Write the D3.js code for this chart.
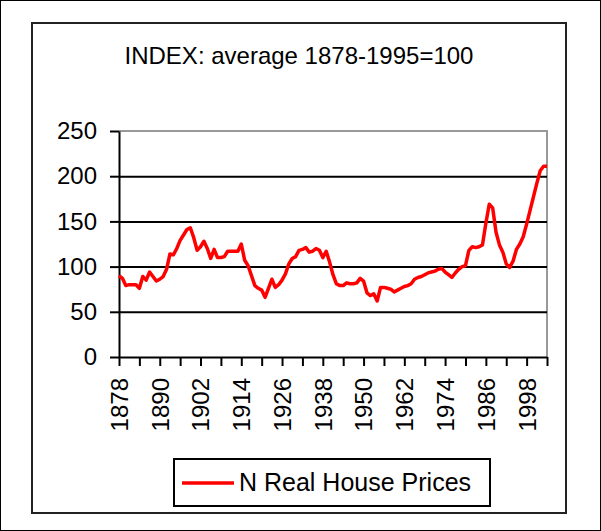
<!DOCTYPE html>
<html lang="en">
<head>
  <meta charset="UTF-8">
  <title>N Real House Prices</title>
  <script src="https://d3js.org/d3.v7.min.js"></script>
  <style>
    body {
      margin: 0;
      background: #fff;
    }
    svg text {
      font-family: "Liberation Sans", Arial, sans-serif;
      fill: #000;
    }
  </style>
</head>
<body>
  <svg id="chart" width="601" height="531"></svg>

  <script>
    const title = "INDEX: average 1878-1995=100";
    const seriesName = "N Real House Prices";

    const firstYear = 1878;
    const lastYear = 2004;

    // one value per year, 1878..2004
    const prices = [
      90, 87, 79, 80, 80, 80, 76, 89, 85, 94,          // 1878-1887
      89, 84, 86, 89, 97, 114, 113, 120, 129, 135,     // 1888-1897
      141, 143, 132, 118, 122, 128, 120, 109, 119, 110, // 1898-1907
      110, 111, 117, 117, 117, 117, 125, 107, 101, 90,  // 1908-1917
      79, 76, 74, 66, 76, 86, 77, 80, 85, 92,           // 1918-1927
      103, 109, 111, 118, 119, 121, 116, 117, 120, 118, // 1928-1937
      110, 117, 105, 91, 81, 79, 79, 82, 81, 81,        // 1938-1947
      82, 87, 84, 71, 68, 70, 62, 77, 77, 76,           // 1948-1957
      75, 72, 74, 76, 78, 79, 81, 86, 88, 89,           // 1958-1967
      91, 93, 94, 95, 97, 98, 94, 91, 88, 93,           // 1968-1977
      97, 100, 101, 118, 122, 121, 122, 124, 148, 169,  // 1978-1987
      165, 138, 124, 116, 103, 99, 106, 119, 125, 133,  // 1988-1997
      147, 162, 177, 192, 206, 211, 211                 // 1998-2004
    ];

    const yTicks = [0, 50, 100, 150, 200, 250];
    const gridValues = [50, 100, 150, 200];
    const xTicks = d3.range(1878, 2005, 6);
    const xLabels = [1878, 1890, 1902, 1914, 1926, 1938, 1950, 1962, 1974, 1986, 1998];

    const data = prices.map((v, i) => ({ year: firstYear + i, value: v }));

    const svg = d3.select("#chart");

    const plot = { left: 119, right: 547, top: 131, bottom: 357 };

    const x = d3.scaleLinear()
      .domain([firstYear, lastYear])
      .range([plot.left, plot.right]);

    const y = d3.scaleLinear()
      .domain([0, 250])
      .range([plot.bottom, plot.top]);

    // outer border and chart frame
    svg.append("rect")
      .attr("x", 0.5).attr("y", 0.5)
      .attr("width", 600).attr("height", 530)
      .attr("fill", "none").attr("stroke", "#000");

    svg.append("rect")
      .attr("x", 32).attr("y", 23)
      .attr("width", 534).attr("height", 490)
      .attr("fill", "none").attr("stroke", "#222").attr("stroke-width", 2);

    svg.append("text")
      .attr("x", 299).attr("y", 64)
      .attr("text-anchor", "middle")
      .attr("font-size", 24)
      .text(title);

    // plot area border (top + right in grey)
    svg.append("path")
      .attr("d", `M${plot.left},${plot.top}H${plot.right}V${plot.bottom}`)
      .attr("fill", "none").attr("stroke", "#999").attr("stroke-width", 2);

    // gridlines
    svg.append("g")
      .attr("transform", `translate(${plot.left},0)`)
      .call(d3.axisLeft(y).tickValues(gridValues).tickSize(-(plot.right - plot.left)).tickFormat(""))
      .call(g => g.select(".domain").remove())
      .call(g => g.selectAll("line").attr("stroke", "#000").attr("stroke-width", 2));

    // y axis
    svg.append("g")
      .attr("transform", `translate(${plot.left},0)`)
      .call(d3.axisLeft(y).tickValues(yTicks).tickSize(9).tickSizeOuter(0).tickPadding(13))
      .call(g => g.select(".domain").attr("stroke", "#000").attr("stroke-width", 2))
      .call(g => g.selectAll("line").attr("stroke", "#000").attr("stroke-width", 2))
      .call(g => g.selectAll("text").attr("font-size", 24).attr("font-family", "Liberation Sans, Arial, sans-serif"));

    // x axis
    svg.append("g")
      .attr("transform", `translate(0,${plot.bottom})`)
      .call(d3.axisBottom(x).tickValues(xTicks).tickSize(9).tickSizeOuter(0)
        .tickFormat(d => xLabels.includes(d) ? String(d) : ""))
      .call(g => g.select(".domain").attr("stroke", "#000").attr("stroke-width", 2))
      .call(g => g.selectAll("line").attr("stroke", "#000").attr("stroke-width", 2))
      .call(g => g.selectAll("text")
        .attr("font-size", 24)
        .attr("font-family", "Liberation Sans, Arial, sans-serif")
        .attr("text-anchor", "end")
        .attr("transform", "rotate(-90)")
        .attr("x", -21)
        .attr("y", 0)
        .attr("dy", "0.35em"));

    // series
    const line = d3.line()
      .x(d => x(d.year))
      .y(d => y(d.value));

    svg.append("path")
      .datum(data)
      .attr("d", line)
      .attr("fill", "none")
      .attr("stroke", "#ff0000")
      .attr("stroke-width", 3.5)
      .attr("stroke-linejoin", "round");

    // legend
    const legend = svg.append("g");
    legend.append("rect")
      .attr("x", 174).attr("y", 459)
      .attr("width", 316).attr("height", 47)
      .attr("fill", "#fff").attr("stroke", "#000").attr("stroke-width", 2);
    legend.append("line")
      .attr("x1", 182).attr("x2", 234)
      .attr("y1", 483).attr("y2", 483)
      .attr("stroke", "#ff0000").attr("stroke-width", 3.5);
    legend.append("text")
      .attr("x", 239).attr("y", 491)
      .attr("font-size", 25)
      .text(seriesName);
  </script>
</body>
</html>
